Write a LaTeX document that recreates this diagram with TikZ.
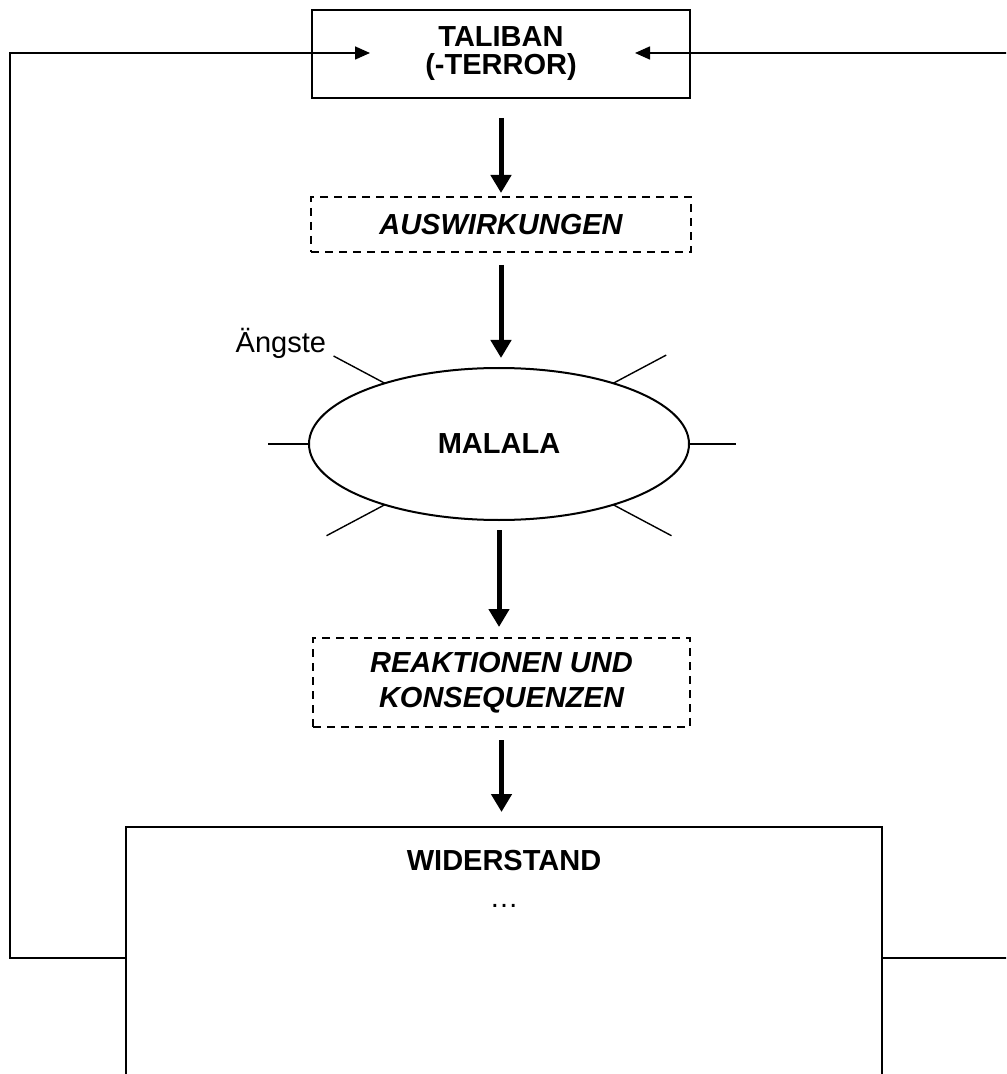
\documentclass[tikz,border=0pt]{standalone}
\usepackage{fontspec}
\setmainfont{Liberation Sans}
\usetikzlibrary{positioning,shapes,arrows.meta,calc}

\begin{document}
\begin{tikzpicture}[x=0.5pt,y=0.5pt]
                    \tikzstyle{every node}=[draw=none,inner sep=0,outer sep=0,font=\fontsize{14.5}{17}\selectfont]
                    \tikzstyle{box}=[draw,rectangle,line width=1pt]
                    \tikzstyle{dashbox}=[draw,rectangle,line width=0.75pt,dash pattern=on 4pt off 3pt,align=center]
                    \tikzstyle{bigarrow}=[line width=2.5pt,-{Triangle[length=9pt,width=10pt]}]
                    \tikzstyle{feedback}=[line width=0.8pt]
                    \tikzstyle{ray}=[line width=0.7pt]
                    \useasboundingbox (0,0) rectangle (1006,-1074);
                    \clip (0,0) rectangle (1006,-1074);
                    {
                        \node[box,minimum width=189pt,minimum height=44pt,align=center,font=\fontsize{14.5}{14}\selectfont\bfseries] (taliban) at (501,-54) {TALIBAN\\(-TERROR)};
                        \node[dashbox,minimum width=190pt,minimum height=27.5pt,font=\fontsize{14.5}{17}\selectfont\bfseries\itshape] (auswirk) at (501,-224.5) {AUSWIRKUNGEN};
                        \node[draw,ellipse,line width=1pt,minimum width=190pt,minimum height=76pt,font=\fontsize{14.5}{17}\selectfont\bfseries] (malala) at (499,-444) {MALALA};
                        \node[dashbox,minimum width=188.5pt,minimum height=44.5pt,font=\fontsize{14.5}{17.5}\selectfont\bfseries\itshape] (reakt) at (501.5,-682.5) {REAKTIONEN UND\\KONSEQUENZEN};
                        \node[box,minimum width=378pt,minimum height=160pt,anchor=north] (widerstand) at (504,-827) {};
                        \node[font=\fontsize{14.5}{17}\selectfont\bfseries,anchor=base] (wtitle) at (504,-870) {WIDERSTAND};
                        \node[anchor=base] (wdots) at (504,-907) {…};
                        \node[anchor=base east] (angst) at (326,-353) {Ängste};

                        \coordinate (lb) at (10,-958);
                        \coordinate (lt) at (10,-53);
                        \coordinate (lin) at (370,-53);
                        \coordinate (rb) at (1012,-958);
                        \coordinate (rt) at (1012,-53);
                        \coordinate (rin) at (635,-53);

                        \draw[ray] (malala.152) -- +(152:58);
                        \draw[ray] (malala.28) -- +(28:60);
                        \draw[ray] (malala.180) -- +(180:41);
                        \draw[ray] (malala.0) -- +(0:47);
                        \draw[ray] (malala.208) -- +(208:66);
                        \draw[ray] (malala.332) -- +(332:66);

                        \draw[bigarrow,shorten <=10pt,shorten >=2pt] (taliban) -- (auswirk);
                        \draw[bigarrow,shorten <=6.5pt,shorten >=5pt] (auswirk.south) -- (auswirk.south |- malala.north);
                        \draw[bigarrow,shorten <=5pt,shorten >=5.5pt] (malala) -- (malala |- reakt.north);
                        \draw[bigarrow,shorten <=6.5pt,shorten >=7.5pt] (reakt.south) -- (reakt.south |- widerstand.north);

                        \draw[feedback,-{Triangle[length=7.5pt,width=6.5pt]}]
                            (widerstand.west |- lb) -- (lb) -- (lt) -- (lin);
                        \draw[feedback,-{Triangle[length=7.5pt,width=6.5pt]}]
                            (widerstand.east |- rb) -- (rb) -- (rt) -- (rin);
                    }
\end{tikzpicture}
\end{document}
